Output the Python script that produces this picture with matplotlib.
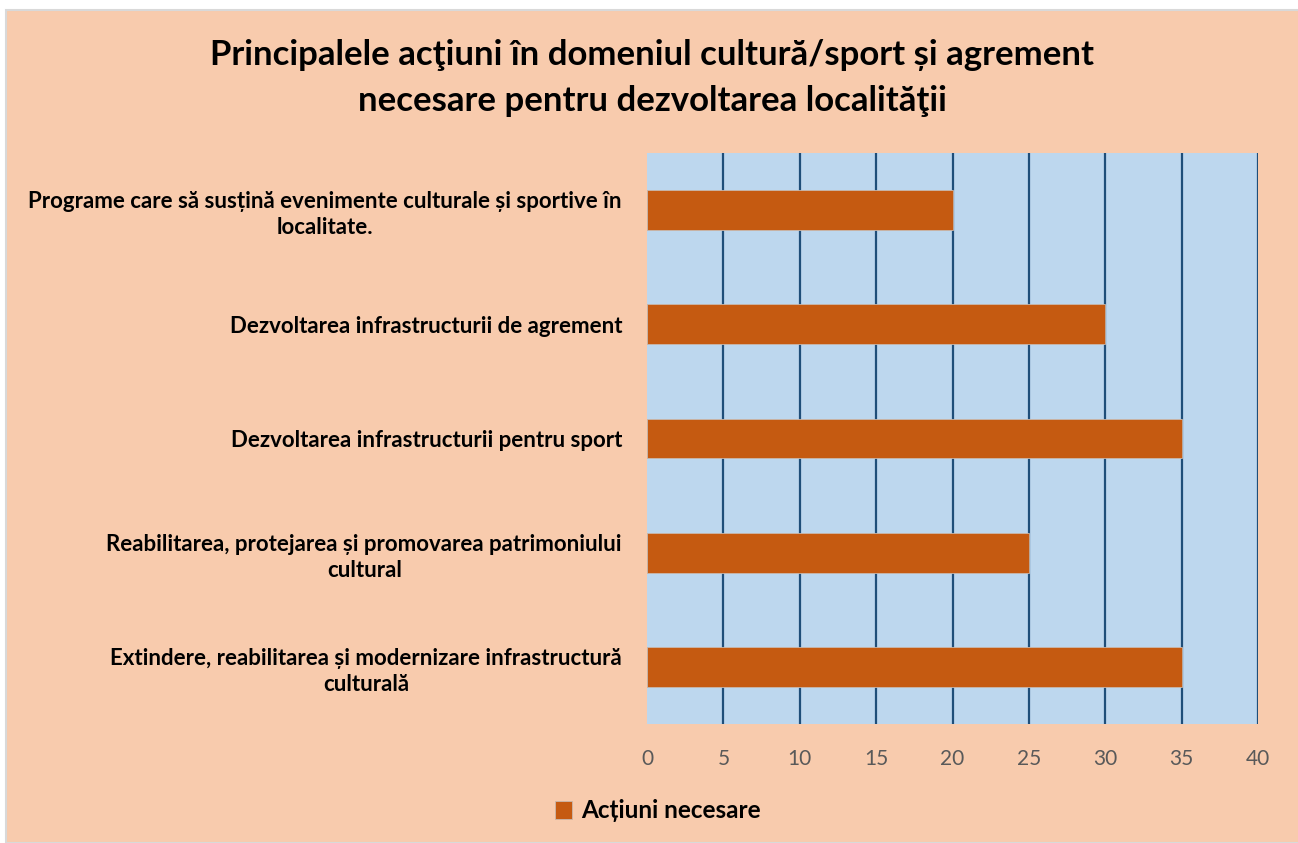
import matplotlib.pyplot as plt
from matplotlib.patches import Rectangle

plt.rcParams["font.family"] = ["Lato", "DejaVu Sans"]

TITLE = ("Principalele acţiuni în domeniul cultură/sport și agrement\n"
         "necesare pentru dezvoltarea localităţii")
CATEGORIES = [
    "Programe care să susțină evenimente culturale și sportive în\nlocalitate.",
    "Dezvoltarea infrastructurii de agrement",
    "Dezvoltarea infrastructurii pentru sport",
    "Reabilitarea, protejarea și promovarea patrimoniului\ncultural",
    "Extindere, reabilitarea și modernizare infrastructură\nculturală",
]
VALUES = [20, 30, 35, 25, 35]
SERIES_LABEL = "Acțiuni necesare"
XTICKS = [0, 5, 10, 15, 20, 25, 30, 35, 40]

BG_PEACH = "#F8CBAD"
PLOT_BLUE = "#BDD7EE"
BAR_COLOR = "#C55A11"
GRID_COLOR = "#1F4E79"
TICK_COLOR = "#595959"

W, H = 1298, 843
fig = plt.figure(figsize=(W / 100, H / 100), dpi=100, facecolor="white")

# peach chart area with thin grey outline (white strip on top and left)
fig.patches.append(Rectangle((6 / W, 0), 1, 1 - 10 / H, transform=fig.transFigure,
                             facecolor=BG_PEACH, edgecolor="#D9D9D9",
                             linewidth=1.5, zorder=-5))

ax = fig.add_axes([647 / W, 1 - 724 / H, (1258 - 647) / W, (724 - 153) / H])
ax.set_facecolor(PLOT_BLUE)

y = list(range(len(CATEGORIES)))
ax.barh(y, VALUES, height=0.35, color=BAR_COLOR, edgecolor="#C9B8AC",
        linewidth=0.6, zorder=3, label=SERIES_LABEL)
ax.set_ylim(len(CATEGORIES) - 0.5, -0.5)
ax.set_xlim(0, 40)
ax.set_xticks(XTICKS)
for xv in XTICKS[1:]:
    ax.axvline(xv, color=GRID_COLOR, linewidth=1.6, zorder=2)

ax.set_yticks(y)
ax.set_yticklabels(CATEGORIES, fontsize=16, fontweight="bold",
                   multialignment="center", linespacing=1.3)
ax.tick_params(axis="y", length=0, pad=18)
ax.tick_params(axis="x", length=0, pad=18, labelsize=15, labelcolor=TICK_COLOR)
for s in ax.spines.values():
    s.set_visible(False)

fig.text(652 / W, 1 - 78 / H, TITLE, ha="center", va="center", fontsize=25,
         fontweight="bold", linespacing=1.55)

leg = fig.legend(loc="center", bbox_to_anchor=(658 / W, 1 - 811 / H),
                 frameon=False, prop={"size": 17.5, "weight": "bold"},
                 handlelength=0.7, handleheight=0.7, handletextpad=0.4)

fig.savefig("out.png", dpi=100, facecolor=fig.get_facecolor())
